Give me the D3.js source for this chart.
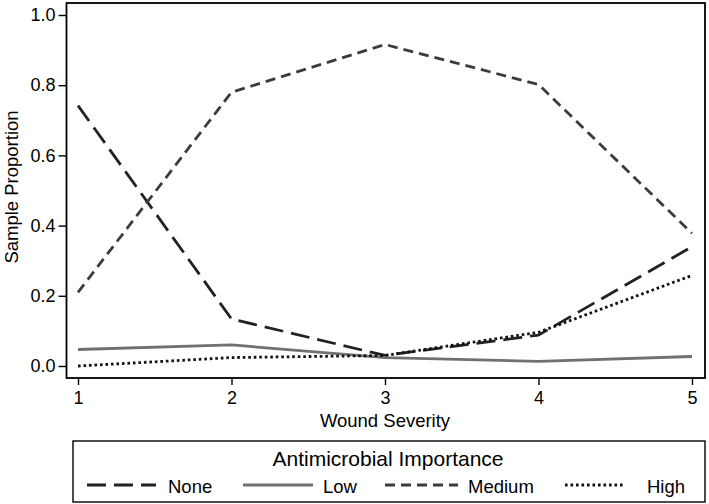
<!DOCTYPE html>
<html><head><meta charset="utf-8">
<script src="https://cdn.jsdelivr.net/npm/d3@7"></script>
<style>body{margin:0;background:#fff}svg{display:block}text{font-family:"Liberation Sans",Arial,sans-serif}</style>
</head><body><svg id="c" width="709" height="504"></svg>
<script>
const severity = [1, 2, 3, 4, 5];
const seriesNames = ["None", "Low", "Medium", "High"];
const noneVals = [0.742, 0.134, 0.030, 0.088, 0.340];
const lowVals = [0.047, 0.060, 0.024, 0.013, 0.027];
const mediumVals = [0.210, 0.780, 0.916, 0.802, 0.378];
const highVals = [0.000, 0.024, 0.030, 0.096, 0.258];
const yTicks = [0, 0.2, 0.4, 0.6, 0.8, 1.0];

const styles = {
  None: {color: "#222", dash: "19,8", width: 2.8},
  Low: {color: "#707070", dash: null, width: 2.8},
  Medium: {color: "#3c3c3c", dash: "10,6", width: 2.8},
  High: {color: "#111", dash: "2.6,2.9", width: 2.8}
};
const data = {None: noneVals, Low: lowVals, Medium: mediumVals, High: highVals};

const svg = d3.select("#c");
const frame = {l: 66.5, r: 705, t: 3, b: 378};
const x = d3.scaleLinear().domain([1, 5]).range([78, 692]);
const y = d3.scaleLinear().domain([0, 1]).range([366, 15]);

svg.append("rect").attr("x", frame.l).attr("y", frame.t)
  .attr("width", frame.r - frame.l).attr("height", frame.b - frame.t)
  .attr("fill", "#fff").attr("stroke", "#000").attr("stroke-width", 1.8);

const yAxis = svg.append("g").attr("transform", `translate(${frame.l},0)`)
  .call(d3.axisLeft(y).tickValues(yTicks).tickFormat(d3.format(".1f")).tickSize(8).tickPadding(3));
const xAxis = svg.append("g").attr("transform", `translate(0,${frame.b})`)
  .call(d3.axisBottom(x).tickValues(severity).tickFormat(d3.format("d")).tickSize(7).tickPadding(6));
[yAxis, xAxis].forEach(g => {
  g.select(".domain").remove();
  g.selectAll("line").attr("stroke", "#000").attr("stroke-width", 1.4);
  g.selectAll("text").attr("font-size", 18).attr("fill", "#000");
});

svg.append("text").attr("x", 385).attr("y", 427).attr("text-anchor", "middle")
  .attr("font-size", 18.5).text("Wound Severity");
svg.append("text").attr("transform", "translate(18,187) rotate(-90)").attr("text-anchor", "middle")
  .attr("font-size", 18.5).text("Sample Proportion");

const line = d3.line().x((d, i) => x(severity[i])).y(d => y(d));
seriesNames.forEach(n => {
  const s = styles[n];
  svg.append("path").datum(data[n]).attr("d", line).attr("fill", "none")
    .attr("stroke", s.color).attr("stroke-width", s.width)
    .attr("stroke-dasharray", s.dash).attr("stroke-linejoin", "round");
});

// Legend
const lg = svg.append("g");
lg.append("rect").attr("x", 73).attr("y", 441).attr("width", 632).attr("height", 61)
  .attr("fill", "#fff").attr("stroke", "#000").attr("stroke-width", 1.4);
lg.append("text").attr("x", 388).attr("y", 466).attr("text-anchor", "middle")
  .attr("font-size", 21).text("Antimicrobial Importance");
const entryX = [87, 243, 385, 565];
const lineEnd = [156, 313, 458, 623];
const textX = [168, 323, 468, 647];
seriesNames.forEach((n, i) => {
  const s = styles[n];
  lg.append("line").attr("x1", entryX[i]).attr("x2", lineEnd[i])
    .attr("y1", 485).attr("y2", 485).attr("stroke", s.color).attr("stroke-width", s.width)
    .attr("stroke-dasharray", s.dash);
  lg.append("text").attr("x", textX[i]).attr("y", 493)
    .attr("font-size", 18.5).text(n);
});
</script></body></html>
